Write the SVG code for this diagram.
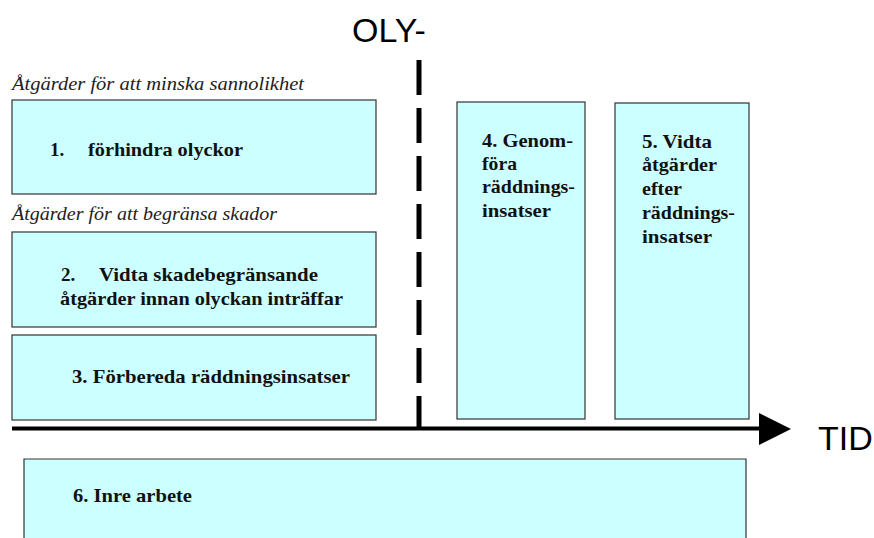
<svg xmlns="http://www.w3.org/2000/svg" width="874" height="538" viewBox="0 0 874 538">
<defs>
<style>
.box{fill:#CCFFFF;stroke:#333333;stroke-width:1.2}
.bt{font-family:"Liberation Serif","Times New Roman",serif;font-weight:bold;font-size:19px;fill:#111}
.it{font-family:"Liberation Serif","Times New Roman",serif;font-style:italic;font-size:18px;fill:#222}
.ax{font-family:"Liberation Sans",Arial,sans-serif;font-size:34px;fill:#000}
</style>
</defs>
<rect width="874" height="538" fill="#fff"/>
<text class="it" x="12" y="90" textLength="292" lengthAdjust="spacingAndGlyphs">Åtgärder för att minska sannolikhet</text>
<text class="it" x="12" y="220" textLength="265" lengthAdjust="spacingAndGlyphs">Åtgärder för att begränsa skador</text>
<g id="node1"><rect class="box" x="12" y="100" width="364" height="94"/>
<text class="bt" x="50" y="156">1.</text><text class="bt" x="88" y="156" textLength="155" lengthAdjust="spacingAndGlyphs">förhindra olyckor</text></g>
<g id="node2"><rect class="box" x="12" y="232" width="364" height="95"/>
<text class="bt" x="61" y="281">2.</text><text class="bt" x="99" y="281" textLength="219" lengthAdjust="spacingAndGlyphs">Vidta skadebegränsande</text>
<text class="bt" x="60" y="305" textLength="283" lengthAdjust="spacingAndGlyphs">åtgärder innan olyckan inträffar</text></g>
<g id="node3"><rect class="box" x="12" y="335" width="364" height="85"/>
<text class="bt" x="72" y="383" textLength="278" lengthAdjust="spacingAndGlyphs">3. Förbereda räddningsinsatser</text></g>
<g id="node4"><rect class="box" x="457" y="102" width="128" height="317"/>
<text class="bt" x="482" y="147" textLength="91" lengthAdjust="spacingAndGlyphs">4. Genom-</text>
<text class="bt" x="482" y="170" textLength="35" lengthAdjust="spacingAndGlyphs">föra</text>
<text class="bt" x="482" y="193" textLength="93" lengthAdjust="spacingAndGlyphs">räddnings-</text>
<text class="bt" x="482" y="217" textLength="69" lengthAdjust="spacingAndGlyphs">insatser</text></g>
<g id="node5"><rect class="box" x="615" y="103" width="134" height="316"/>
<text class="bt" x="642" y="148" textLength="70" lengthAdjust="spacingAndGlyphs">5. Vidta</text>
<text class="bt" x="642" y="171" textLength="75" lengthAdjust="spacingAndGlyphs">åtgärder</text>
<text class="bt" x="642" y="195" textLength="40" lengthAdjust="spacingAndGlyphs">efter</text>
<text class="bt" x="642" y="219" textLength="93" lengthAdjust="spacingAndGlyphs">räddnings-</text>
<text class="bt" x="642" y="243" textLength="70" lengthAdjust="spacingAndGlyphs">insatser</text></g>
<g id="node6"><path class="box" d="M24,539 V459 H746 V539"/>
<text class="bt" x="73" y="502" textLength="119" lengthAdjust="spacingAndGlyphs">6. Inre arbete</text></g>
<g id="connectors">
<line x1="419" y1="60" x2="419" y2="428" stroke="#000" stroke-width="5" stroke-dasharray="35 13"/>
<line x1="12" y1="428.5" x2="762" y2="428.5" stroke="#000" stroke-width="4"/>
<polygon points="759,413 791,429 759,445" fill="#000"/>
</g>
<text class="ax" x="352" y="42">OLY-</text>
<text class="ax" x="818" y="450">TID</text>
</svg>
